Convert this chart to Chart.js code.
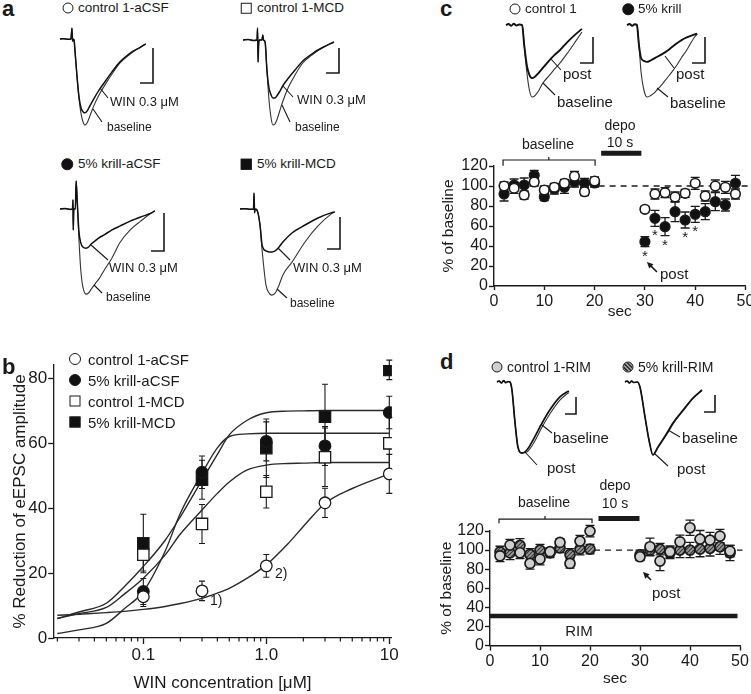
<!DOCTYPE html>
<html>
<head>
<meta charset="utf-8">
<script src="https://cdn.jsdelivr.net/npm/chart.js@4.4.1/dist/chart.umd.min.js"></script>
<style>
  html, body { margin: 0; padding: 0; background: #fff; }
  body { position: relative; width: 751px; height: 694px; overflow: hidden;
         font-family: "Liberation Sans", Arial, sans-serif; color: #1a1a1a; }
  canvas { position: absolute; }
  .lab { position: absolute; white-space: nowrap; line-height: 1; transform: translateY(-50%); }
  .mid { transform: translate(-50%, -50%); }
  .sym { position: absolute; box-sizing: border-box; transform: translate(-50%, -50%);
         border: 1.5px solid #1a1a1a; background: #fff; }
</style>
</head>
<body>
<script>
// ---------- panel b : dose response ----------
const bConc = [0.1, 0.3, 1, 3, 10];
const bCtrlACSF = [12.7, 14.5, 22.2, 41.6, 50.5];
const bCtrlACSFErr = [3, 3, 3.5, 4.5, 6];
const bKrillACSF = [14.3, 51, 60.5, 59.1, 69.4];
const bKrillACSFErr = [4, 5, 6, 6, 5];
const bCtrlMCD = [25.6, 35.1, 45, 55.6, 59.9];
const bCtrlMCDErr = [5, 6, 5, 9, 8];
const bKrillMCD = [29.1, 48.7, 58.4, 68.1, 82.5];
const bKrillMCDErr = [9, 6, 9, 10, 3];

// fitted curves
const fitConc = [0.02, 0.03, 0.05, 0.07, 0.1, 0.15, 0.2, 0.3, 0.4, 0.5, 0.7, 1, 1.5, 2, 3, 5, 10];
const fitCtrlACSF = [7, 7.3, 7.8, 8.2, 8.8, 9.7, 10.6, 12.2, 13.8, 15.3, 18.4, 22.5, 29, 34.3, 41.4, 46, 50.5];
const fitKrillACSF = [1.4, 2.5, 4.5, 9, 14.3, 26.6, 38.4, 50.7, 58.5, 62, 62.8, 63, 63, 63, 63, 63, 63];
const fitCtrlMCD = [6, 7.5, 9.4, 13.5, 18.4, 25.5, 32, 39.4, 44.5, 48, 51.7, 53.2, 53.7, 53.8, 54, 54, 54];
const fitKrillMCD = [6, 8, 10.7, 15.8, 22, 30, 37.3, 48.6, 56.5, 62.5, 67, 69.3, 69.8, 69.9, 70, 70, 70];

const bXTicks = [0.1, 1, 10];
const bXTickLabels = ['0.1', '1.0', '10'];
const bXMinor = [0.02, 0.03, 0.04, 0.05, 0.06, 0.07, 0.08, 0.09,
                 0.2, 0.3, 0.4, 0.5, 0.6, 0.7, 0.8, 0.9,
                 2, 3, 4, 5, 6, 7, 8, 9];
const bYTicks = [0, 20, 40, 60, 80];

// ---------- panel c : depolarisation, % of baseline ----------
const cTime = [2, 4, 6, 8, 10, 12, 14, 16, 18, 20, 30, 32, 34, 36, 38, 40, 42, 44, 46, 48];
const cControl = [100, 97.7, 91, 104, 96, 98.7, 102.7, 109.7, 94.3, 105, 76.7, 92, 93.3, 89, 92.7, 102.7, 90, 100, 98.7, 92];
const cControlErr = [4, 5, 4, 4, 4, 4, 4, 5, 4, 4, 3, 5, 5, 5, 4, 6, 5, 6, 6, 5];
const cKrill = [92, 101, 101, 110.7, 89.3, 97, 98.7, 104, 102.7, 103, 44.3, 67.7, 59.3, 74.3, 66, 71.7, 74.3, 84.3, 81, 102.7];
const cKrillErr = [7, 6, 7, 5, 4, 5, 6, 5, 5, 4, 5, 8, 9, 10, 8, 8, 8, 9, 6, 8];
const cStarTimes = [30, 32, 34, 38, 40];

// ---------- panel d : with rimonabant ----------
const dTime = [2, 4, 6, 8, 10, 12, 14, 16, 18, 20, 30, 32, 34, 36, 38, 40, 42, 44, 46, 48];
const dControl = [94, 105.3, 97.2, 86, 90.6, 98.3, 108, 86, 109.4, 119.9, 93, 103.5, 88.5, 98.3, 108.7, 123.4, 111.5, 110.5, 114.7, 99];
const dControlErr = [6, 6, 6, 6, 6, 4, 4, 5, 6, 6, 4, 9, 10, 6, 7, 8, 9, 8, 7, 6];
const dKrill = [98, 97, 105, 95.5, 100, 97, 102.4, 95.5, 101, 101, 95, 100, 101, 97, 100, 100, 101, 101.8, 103.5, 97];
const dKrillErr = [6, 7, 7, 6, 6, 5, 5, 6, 6, 5, 5, 6, 6, 6, 8, 8, 8, 8, 8, 8];

// ---------- example eEPSC traces (ms, pA) ----------
const a1Time = [0, 1.5, 3, 4.2, 4.6, 4.8, 5.0, 5.4, 5.8, 6.5, 7.3, 8.1, 9.0, 9.6, 10.4, 11.5, 13, 15, 17.5, 20, 23, 27, 31, 33];
const a1Base = [0, 1, -1, 0, 31, -6, 0, -3, -37, -103, -169, -214, -240, -246, -240, -220, -191, -160, -129, -100, -69, -43, -23, -14];
const a1Win  = [0, 1, -1, 0, 31, -6, 0, -3, -37, -103, -165, -197, -209, -211, -206, -191, -171, -146, -120, -94, -66, -40, -23, -14];

const a2Time = [0, 2, 4, 5.4, 5.6, 5.8, 6.0, 6.3, 7.3, 7.6, 7.9, 8.5, 9.2, 10, 10.8, 11.5, 12.3, 13, 14, 15.5, 17.5, 20, 23, 27, 31, 35];
const a2Base = [0, 2, -2, 0, 48, -88, -20, 0, 0, 20, 0, -8, -120, -240, -312, -340, -336, -320, -288, -240, -188, -140, -92, -56, -28, -8];
const a2Win  = [0, 2, -2, 0, 48, -88, -20, 0, 0, 20, 0, -8, -120, -192, -220, -232, -232, -224, -208, -180, -152, -120, -84, -52, -28, -8];

const a3Time = [0, 2, 4, 4.8, 5.0, 5.1, 5.3, 5.9, 6.2, 6.6, 7.3, 8.0, 8.8, 10, 11, 12, 13.5, 15, 17, 20, 23, 27, 31, 35, 36.5];
const a3Base = [0, 1, -1, 0, 24, -55, 0, 0, 74, 24, -82, -161, -205, -224, -221, -211, -197, -184, -161, -129, -89, -55, -32, -11, -5];
const a3Win  = [0, 1, -1, 0, 24, -55, 0, 0, 74, 24, -61, -89, -100, -103, -100, -92, -84, -76, -68, -55, -45, -32, -21, -11, -5];

const a4Time = [0, 2, 4, 5.2, 5.4, 5.6, 5.8, 6.5, 7.7, 8.5, 10, 11.2, 12.3, 13.5, 15, 16.5, 20, 25, 30, 35, 36.5];
const a4Base = [0, 1, -1, 0, 50, -12, 0, -3, -50, -128, -238, -263, -269, -263, -238, -206, -166, -103, -53, -16, -9];
const a4Win  = [0, 1, -1, 0, 50, -12, 0, -3, -50, -113, -131, -134, -134, -131, -119, -103, -75, -50, -28, -12, -9];

const c1Time = [0, 1, 2, 3, 4, 5, 6.2, 7, 8, 9, 10, 11, 12.5, 14.2, 16.5, 18.5, 20.8, 23.5, 26.5, 29.2];
const c1Base = [0, 4, -3, 5, -2, 2, 0, -77, -181, -250, -277, -273, -254, -223, -196, -172, -146, -110, -67, -27];
const c1Post = [0, 4, -3, 5, -2, 2, 0, -77, -154, -192, -204, -200, -185, -165, -138, -117, -96, -67, -38, -15];

const c2Time = [0, 1, 2, 3, 3.8, 4.6, 5.4, 6.5, 7.7, 8.8, 10, 11.5, 13.5, 15.4, 17.3, 19.2, 21, 23, 26, 27];
const c2Base = [0, 4, -3, 3, 0, -77, -181, -250, -277, -273, -265, -250, -228, -204, -180, -154, -125, -96, -46, -35];
const c2Post = [0, 4, -3, 3, 0, -77, -127, -138, -142, -138, -131, -123, -112, -100, -85, -70, -58, -48, -36, -33];

const d1Time = [0, 1, 2, 3, 4, 5, 5.9, 6.8, 8.2, 9.5, 11.4, 13.6, 16.4, 20.5, 24, 28.6, 31.8, 32.7];
const d1Base = [0, 6, -6, 8, -4, 3, 0, -47, -241, -382, -418, -412, -365, -265, -188, -106, -70, -62];
const d1Post = [0, 6, -6, 8, -4, 3, 0, -47, -241, -382, -418, -400, -341, -241, -165, -88, -59, -53];

const d2Time = [0, 1, 2, 3, 4, 5.5, 6.8, 9.1, 10.9, 12.7, 15, 19.1, 21.8, 26.4, 30.9, 35];
const d2Base = [0, 6, -6, 6, -3, 0, -29, -206, -341, -429, -385, -306, -248, -170, -98, -50];
const d2Post = [0, 6, -6, 6, -3, 0, -29, -206, -341, -429, -382, -300, -241, -165, -94, -47];

const scaleBarMs = 5;
const scaleBarPA = 100;

// ---------------------------------------------------------------
const INK = '#1a1a1a';
Chart.defaults.font.family = '"Liberation Sans", Arial, sans-serif';
Chart.defaults.color = INK;
Chart.defaults.animation = false;

const xy = (xs, ys) => xs.map((x, i) => ({ x, y: ys[i] }));

function makeCanvas(left, top, w, h) {
  const c = document.createElement('canvas');
  c.width = w; c.height = h;
  c.style.left = left + 'px'; c.style.top = top + 'px';
  c.style.width = w + 'px'; c.style.height = h + 'px';
  document.body.appendChild(c);
  return c;
}

// error bars (drawn under the markers)
const errorBars = {
  id: 'errorBars',
  beforeDatasetsDraw(chart, args, opts) {
    const { ctx } = chart;
    const ys = chart.scales.y;
    chart.data.datasets.forEach((ds, i) => {
      if (!ds.errors) return;
      const meta = chart.getDatasetMeta(i);
      ctx.save();
      ctx.strokeStyle = INK;
      ctx.lineWidth = opts.width || 1.2;
      const cap = opts.cap || 3;
      meta.data.forEach((pt, j) => {
        const v = ds.data[j].y, e = ds.errors[j];
        const y1 = ys.getPixelForValue(v + e), y2 = ys.getPixelForValue(v - e);
        ctx.beginPath();
        ctx.moveTo(pt.x, y1); ctx.lineTo(pt.x, y2);
        ctx.moveTo(pt.x - cap, y1); ctx.lineTo(pt.x + cap, y1);
        ctx.moveTo(pt.x - cap, y2); ctx.lineTo(pt.x + cap, y2);
        ctx.stroke();
      });
      ctx.restore();
    });
  }
};

// significance asterisks below the error bar
const stars = {
  id: 'stars',
  afterDatasetsDraw(chart) {
    const { ctx } = chart;
    const ys = chart.scales.y;
    chart.data.datasets.forEach((ds, i) => {
      if (!ds.stars) return;
      const meta = chart.getDatasetMeta(i);
      ctx.save();
      ctx.fillStyle = INK;
      ctx.font = '15px "Liberation Sans", Arial, sans-serif';
      ctx.textAlign = 'center';
      ctx.textBaseline = 'middle';
      meta.data.forEach((pt, j) => {
        if (!ds.stars.includes(ds.data[j].x)) return;
        const y = ys.getPixelForValue(ds.data[j].y - ds.errors[j]);
        ctx.fillText('*', pt.x, y + 10);
      });
      ctx.restore();
    });
  }
};

// brackets, bars and arrows placed in data units
const marks = {
  id: 'marks',
  afterDatasetsDraw(chart, args, opts) {
    if (!opts.items) return;
    const { ctx } = chart;
    const X = v => chart.scales.x.getPixelForValue(v);
    const Y = v => chart.scales.y.getPixelForValue(v);
    ctx.save();
    ctx.strokeStyle = INK; ctx.fillStyle = INK;
    for (const m of opts.items) {
      ctx.beginPath();
      if (m.type === 'bar') {
        ctx.lineWidth = m.w;
        ctx.moveTo(X(m.x0), Y(m.y)); ctx.lineTo(X(m.x1), Y(m.y));
        ctx.stroke();
      } else if (m.type === 'bracket') {
        ctx.lineWidth = 1.2;
        const yb = Y(m.y), yd = Y(m.y - m.drop);
        ctx.moveTo(X(m.x0), yd); ctx.lineTo(X(m.x0), yb);
        ctx.lineTo(X(m.x1), yb); ctx.lineTo(X(m.x1), yd);
        ctx.moveTo(X(m.mid), yb); ctx.lineTo(X(m.mid), yb - 3);
        ctx.stroke();
      } else if (m.type === 'arrow') {
        ctx.lineWidth = 1.6;
        const x0 = X(m.x0), y0 = Y(m.y0), x1 = X(m.x1), y1 = Y(m.y1);
        const a = Math.atan2(y1 - y0, x1 - x0);
        ctx.moveTo(x0, y0); ctx.lineTo(x1 - 4 * Math.cos(a), y1 - 4 * Math.sin(a));
        ctx.stroke();
        ctx.beginPath();
        ctx.moveTo(x1, y1);
        ctx.lineTo(x1 - 7 * Math.cos(a - 0.45), y1 - 7 * Math.sin(a - 0.45));
        ctx.lineTo(x1 - 7 * Math.cos(a + 0.45), y1 - 7 * Math.sin(a + 0.45));
        ctx.closePath(); ctx.fill();
      }
    }
    ctx.restore();
  }
};

// minor ticks for the log axis of panel b
const minorTicks = {
  id: 'minorTicks',
  afterDraw(chart, args, opts) {
    if (!opts.values) return;
    const { ctx } = chart;
    const xs = chart.scales.x;
    const y0 = chart.chartArea.bottom;
    ctx.save();
    ctx.strokeStyle = INK; ctx.lineWidth = 1.2;
    ctx.beginPath();
    for (const v of opts.values) {
      const px = xs.getPixelForValue(v);
      ctx.moveTo(px, y0); ctx.lineTo(px, y0 + opts.len);
    }
    ctx.stroke();
    ctx.restore();
  }
};

// scale bar + label leaders for the trace insets
const traceDeco = {
  id: 'traceDeco',
  afterDatasetsDraw(chart, args, opts) {
    if (!opts.box) return;
    const { ctx } = chart;
    const xs = chart.scales.x, ys = chart.scales.y;
    const b = opts.box;
    const vlen = ys.getPixelForValue(0) - ys.getPixelForValue(scaleBarPA);
    const hlen = xs.getPixelForValue(scaleBarMs) - xs.getPixelForValue(0);
    const bx = opts.bar[0] - b.l, by = opts.bar[1] - b.t;
    ctx.save();
    ctx.strokeStyle = INK;
    ctx.lineWidth = 1.6;
    ctx.beginPath();
    ctx.moveTo(bx, by - vlen); ctx.lineTo(bx, by); ctx.lineTo(bx - hlen, by);
    ctx.stroke();
    ctx.lineWidth = 1.1;
    ctx.beginPath();
    for (const [x0, y0, x1, y1] of opts.leaders) {
      ctx.moveTo(x0 - b.l, y0 - b.t); ctx.lineTo(x1 - b.l, y1 - b.t);
    }
    ctx.stroke();
    ctx.restore();
  }
};

Chart.register(errorBars, stars, marks, minorTicks, traceDeco);

// ---------------- traces ----------------
const traces = [
  { t: a1Time, drug: a1Win, base: a1Base, box: { l: 54, t: 22, w: 110, h: 110 }, x0: 60, y0: 39, pxMs: 2.6, pxPA: 0.35,
    bar: [153, 83], leaders: [[100, 88, 108, 98], [93, 109, 102, 122]], w: 1.5 },
  { t: a2Time, drug: a2Win, base: a2Base, box: { l: 238, t: 22, w: 108, h: 110 }, x0: 243, y0: 40, pxMs: 2.6, pxPA: 0.25,
    bar: [339, 73], leaders: [[283, 86, 293, 97], [282, 105, 290, 122]], w: 1.5 },
  { t: a3Time, drug: a3Win, base: a3Base, box: { l: 54, t: 176, w: 116, h: 126 }, x0: 60, y0: 209, pxMs: 2.6, pxPA: 0.38,
    bar: [164, 251], leaders: [[91, 245, 108, 260], [94, 285, 102, 293]], w: 1.5 },
  { t: a4Time, drug: a4Win, base: a4Base, box: { l: 234, t: 186, w: 112, h: 116 }, x0: 240, y0: 209, pxMs: 2.6, pxPA: 0.32,
    bar: [340, 249], leaders: [[278, 248, 290, 260], [277, 289, 287, 298]], w: 1.5 },
  { t: c1Time, drug: c1Post, base: c1Base, box: { l: 502, t: 15, w: 96, h: 92 }, x0: 506, y0: 25, pxMs: 2.6, pxPA: 0.26,
    bar: [593, 63], leaders: [[551, 59, 561, 70], [543, 83, 555, 95]], w: 1.9 },
  { t: c2Time, drug: c2Post, base: c2Base, box: { l: 622, t: 15, w: 90, h: 92 }, x0: 627, y0: 25, pxMs: 2.6, pxPA: 0.26,
    bar: [705, 63], leaders: [[665, 56, 674, 68], [657, 88, 668, 97]], w: 1.9 },
  { t: d1Time, drug: d1Post, base: d1Base, box: { l: 492, t: 372, w: 92, h: 98 }, x0: 497, y0: 382, pxMs: 2.2, pxPA: 0.17,
    bar: [576, 414], leaders: [[542, 425, 552, 433], [525, 452, 537, 465]], w: 1.7 },
  { t: d2Time, drug: d2Post, base: d2Base, box: { l: 620, t: 370, w: 100, h: 100 }, x0: 625, y0: 382, pxMs: 2.2, pxPA: 0.17,
    bar: [715, 412], leaders: [[668, 430, 680, 437], [655, 454, 668, 466]], w: 1.7 }
];

traces.forEach(tr => {
  const b = tr.box;
  const cv = makeCanvas(b.l, b.t, b.w, b.h);
  new Chart(cv, {
    type: 'scatter',
    data: {
      datasets: [
        { data: xy(tr.t, tr.drug), showLine: true, borderColor: '#111', borderWidth: tr.w,
          pointRadius: 0, cubicInterpolationMode: 'monotone', clip: false },
        { data: xy(tr.t, tr.base), showLine: true, borderColor: '#333', borderWidth: 1.1,
          pointRadius: 0, cubicInterpolationMode: 'monotone', clip: false }
      ]
    },
    options: {
      responsive: false, events: [],
      layout: { padding: 0 },
      plugins: { legend: { display: false }, tooltip: { enabled: false },
                 traceDeco: { box: b, bar: tr.bar, leaders: tr.leaders } },
      scales: {
        x: { type: 'linear', display: false,
             min: (b.l - tr.x0) / tr.pxMs, max: (b.l + b.w - tr.x0) / tr.pxMs },
        y: { type: 'linear', display: false,
             min: (tr.y0 - b.t - b.h) / tr.pxPA, max: (tr.y0 - b.t) / tr.pxPA }
      }
    }
  });
});

// ---------------- panel b ----------------
function pts(xs, ys, errs, style, fill, r) {
  return { data: xy(xs, ys), errors: errs, showLine: false, pointStyle: style, pointRadius: r,
           backgroundColor: fill, borderColor: INK, borderWidth: 1.3 };
}
function fitLine(ys) {
  return { data: xy(fitConc, ys), showLine: true, pointRadius: 0, borderColor: '#2a2a2a',
           borderWidth: 1.4, cubicInterpolationMode: 'monotone' };
}

(function () {
  const cv = makeCanvas(0, 350, 410, 344);
  const tickFont = { size: 17 };
  new Chart(cv, {
    type: 'scatter',
    data: {
      datasets: [
        pts(bConc, bCtrlACSF, bCtrlACSFErr, 'circle', '#fff', 5.8),
        pts(bConc, bCtrlMCD, bCtrlMCDErr, 'rect', '#fff', 8),
        pts(bConc, bKrillACSF, bKrillACSFErr, 'circle', '#111', 5.8),
        pts(bConc, bKrillMCD, bKrillMCDErr, 'rect', '#111', 8),
        fitLine(fitCtrlACSF), fitLine(fitKrillACSF), fitLine(fitCtrlMCD), fitLine(fitKrillMCD)
      ]
    },
    options: {
      responsive: false, events: [],
      layout: { padding: { top: 15, right: 410 - 391.9, left: 0, bottom: 0 } },
      plugins: { legend: { display: false }, tooltip: { enabled: false },
                 errorBars: { cap: 3, width: 1.1 },
                 minorTicks: { values: bXMinor, len: 3.5 } },
      scales: {
        x: {
          type: 'logarithmic', min: 0.0185, max: 10.5,
          afterFit: s => { s.height = 56; },
          afterBuildTicks: s => { s.ticks = bXTicks.map(v => ({ value: v, major: true })); },
          ticks: { autoSkip: false, maxRotation: 0, padding: 1, font: tickFont,
                   callback: v => bXTickLabels[bXTicks.indexOf(v)] },
          grid: { drawOnChartArea: false, tickLength: 6, tickColor: INK, tickWidth: 1.3 },
          border: { color: INK, width: 1.3 },
          title: { display: true, text: 'WIN concentration [\u03bcM]', font: { size: 17 },
                   padding: { top: 0, bottom: 0 } }
        },
        y: {
          min: 0, max: 84,
          afterFit: s => { s.width = 53.2; },
          afterBuildTicks: s => { s.ticks = bYTicks.map(v => ({ value: v })); },
          ticks: { autoSkip: false, padding: 1, font: tickFont },
          grid: { drawOnChartArea: false, tickLength: 5, tickColor: INK, tickWidth: 1.3 },
          border: { color: INK, width: 1.3 },
          title: { display: true, text: '% Reduction of eEPSC amplitude', font: { size: 17 },
                   padding: { top: 9.8, bottom: 0 } }
        }
      }
    }
  });
})();

// ---------------- panels c and d ----------------
function hatch() {
  const p = document.createElement('canvas');
  p.width = 4; p.height = 4;
  const g = p.getContext('2d');
  g.fillStyle = '#9a9a9a'; g.fillRect(0, 0, 4, 4);
  g.strokeStyle = '#333'; g.lineWidth = 1.1;
  g.beginPath(); g.moveTo(0, 4); g.lineTo(4, 0); g.moveTo(-1, 1); g.lineTo(1, -1);
  g.moveTo(3, 5); g.lineTo(5, 3); g.stroke();
  return g.createPattern(p, 'repeat');
}

function timeCourse(box, area, titles, datasets, markItems, tickSize, tl) {
  const cv = makeCanvas(box.l, box.t, box.w, box.h);
  const font = { size: tickSize };
  new Chart(cv, {
    type: 'scatter',
    data: { datasets },
    options: {
      responsive: false, events: [],
      layout: { padding: { top: area.top - box.t, right: box.l + box.w - area.right, left: 0, bottom: 0 } },
      plugins: { legend: { display: false }, tooltip: { enabled: false },
                 errorBars: { cap: 4.5, width: 1.3 }, marks: { items: markItems } },
      scales: {
        x: {
          min: 0, max: 50,
          afterFit: s => { s.height = box.t + box.h - area.bottom; },
          ticks: { stepSize: 10, autoSkip: false, padding: tl.xpad, font, maxRotation: 0 },
          grid: { drawOnChartArea: false, tickLength: tl.x, tickColor: INK, tickWidth: 1.4 },
          border: { color: INK, width: 1.4 },
          title: { display: true, text: 'sec', font: { size: 15.5 }, padding: { top: 0, bottom: titles.xpad } }
        },
        y: {
          min: 0, max: 120,
          afterFit: s => { s.width = area.left - box.l; },
          ticks: { stepSize: 20, autoSkip: false, padding: 1, font },
          grid: { drawOnChartArea: false, tickLength: 5, tickColor: INK, tickWidth: 1.4 },
          border: { color: INK, width: 1.4 },
          title: { display: true, text: '% of baseline', font: { size: 15.5 }, padding: { top: titles.ypad, bottom: 0 } }
        }
      }
    }
  });
}

function dashed100(x0, x1) {
  return { data: [{ x: x0, y: 100 }, { x: x1, y: 100 }], showLine: true, pointRadius: 0,
           borderColor: INK, borderWidth: 1.3, borderDash: [6, 5], clip: false };
}

timeCourse(
  { l: 430, t: 150, w: 330, h: 172 },
  { left: 494, right: 745.5, top: 166, bottom: 286 },
  { xpad: 0.7, ypad: 9.4 },
  [
    { data: xy(cTime, cControl), errors: cControlErr, pointRadius: 4.8, pointStyle: 'circle',
      backgroundColor: '#fff', borderColor: INK, borderWidth: 1.6, clip: false },
    { data: xy(cTime, cKrill), errors: cKrillErr, stars: cStarTimes, pointRadius: 4.8, pointStyle: 'circle',
      backgroundColor: '#111', borderColor: INK, borderWidth: 1.6, clip: false },
    dashed100(20.8, 50.5)
  ],
  [
    { type: 'bracket', x0: 1.8, x1: 20.1, y: 126, drop: 5.7, mid: 10.9 },
    { type: 'bar', x0: 21.3, x1: 29.3, y: 132.7, w: 5 },
    { type: 'arrow', x0: 32.4, y0: 14, x1: 30.4, y1: 24 }
  ],
  16, { x: 4, xpad: 1.5 }
);

timeCourse(
  { l: 427, t: 505, w: 333, h: 185 },
  { left: 490, right: 740, top: 531, bottom: 645.5 },
  { xpad: 2.1, ypad: 10.1 },
  [
    { data: xy(dTime, dControl), errors: dControlErr, pointRadius: 5, pointStyle: 'circle',
      backgroundColor: '#cfcfcf', borderColor: INK, borderWidth: 1.7, clip: false },
    { data: xy(dTime, dKrill), errors: dKrillErr, pointRadius: 5, pointStyle: 'circle',
      backgroundColor: hatch(), borderColor: INK, borderWidth: 1.7, clip: false },
    dashed100(20.8, 50.5)
  ],
  [
    { type: 'bracket', x0: 1.8, x1: 20.4, y: 132.5, drop: 4.5, mid: 11 },
    { type: 'bar', x0: 21.7, x1: 29.9, y: 133.2, w: 5 },
    { type: 'bar', x0: 0, x1: 49.5, y: 30.9, w: 4.5 },
    { type: 'arrow', x0: 32.2, y0: 68.6, x1: 30.6, y1: 77 }
  ],
  16, { x: 5, xpad: 1.5 }
);

// ---------------- text and legend symbols ----------------
const textLabels = [
  // text, left, centre y, size, weight, centred
  ['a', 2, 9, 22, 'bold'],
  ['control 1-aCSF', 78, 8, 13.5],
  ['control 1-MCD', 257, 8, 13.5],
  ['5% krill-aCSF', 78, 164, 13.5],
  ['5% krill-MCD', 257, 164, 13.5],
  ['WIN 0.3 \u03bcM', 110, 101, 13],
  ['baseline', 107, 127, 12],
  ['WIN 0.3 \u03bcM', 297, 99, 13],
  ['baseline', 295, 127, 12],
  ['WIN 0.3 \u03bcM', 109, 267, 13],
  ['baseline', 106, 297, 12],
  ['WIN 0.3 \u03bcM', 293, 267, 13],
  ['baseline', 290, 303, 12],

  ['b', 2, 367, 22, 'bold'],
  ['control 1-aCSF', 88, 359, 15],
  ['5% krill-aCSF', 88, 380, 15],
  ['control 1-MCD', 88, 401, 15],
  ['5% krill-MCD', 88, 422, 15],
  ['1)', 210, 600, 14],
  ['2)', 275, 573, 14],

  ['c', 440, 9, 22, 'bold'],
  ['control 1', 525, 9, 13.5],
  ['5% krill', 638, 9, 13.5],
  ['post', 563, 73, 15],
  ['baseline', 557, 101, 15],
  ['post', 676, 73, 15],
  ['baseline', 670, 102, 15],
  ['baseline', 548, 144, 14, 'normal', true],
  ['depo', 620, 125, 14, 'normal', true],
  ['10 s', 620, 142, 14, 'normal', true],
  ['post', 660, 273, 15],

  ['d', 440, 362, 22, 'bold'],
  ['control 1-RIM', 507, 367, 14],
  ['5% krill-RIM', 638, 367, 14],
  ['baseline', 553, 437, 15],
  ['post', 547, 467, 15],
  ['baseline', 682, 437, 15],
  ['post', 677, 468, 15],
  ['baseline', 544, 502, 14, 'normal', true],
  ['depo', 615, 485, 14, 'normal', true],
  ['10 s', 615, 503, 14, 'normal', true],
  ['post', 652, 592, 15],
  ['RIM', 579, 630, 15, 'normal', true]
];

textLabels.forEach(([txt, x, y, size, weight, centred]) => {
  const el = document.createElement('div');
  el.className = centred ? 'lab mid' : 'lab';
  el.textContent = txt;
  el.style.left = x + 'px';
  el.style.top = y + 'px';
  el.style.fontSize = size + 'px';
  if (weight) el.style.fontWeight = weight;
  document.body.appendChild(el);
});

const legendSymbols = [
  // kind, centre x, centre y, size
  ['openCircle', 68, 8, 11], ['openSquare', 246, 8, 10.5],
  ['filledCircle', 67, 164, 11.5], ['filledSquare', 246, 164, 10.5],
  ['openCircle', 75, 359, 12], ['filledCircle', 75, 380, 12],
  ['openSquare', 75, 401, 11], ['filledSquare', 75, 422, 11],
  ['openCircle', 515, 9, 11], ['filledCircle', 628, 9, 11.5],
  ['greyCircle', 497, 367, 11], ['hatchCircle', 628, 367, 11]
];

legendSymbols.forEach(([kind, x, y, s]) => {
  const el = document.createElement('div');
  el.className = 'sym';
  el.style.left = x + 'px'; el.style.top = y + 'px';
  el.style.width = s + 'px'; el.style.height = s + 'px';
  if (kind.includes('Circle')) el.style.borderRadius = '50%';
  if (kind.startsWith('filled')) el.style.background = '#111';
  if (kind === 'greyCircle') el.style.background = '#cfcfcf';
  if (kind === 'hatchCircle') el.style.background =
    'repeating-linear-gradient(45deg, #333 0 1.2px, #9a9a9a 1.2px 2.8px)';
  document.body.appendChild(el);
});
</script>
</body>
</html>
